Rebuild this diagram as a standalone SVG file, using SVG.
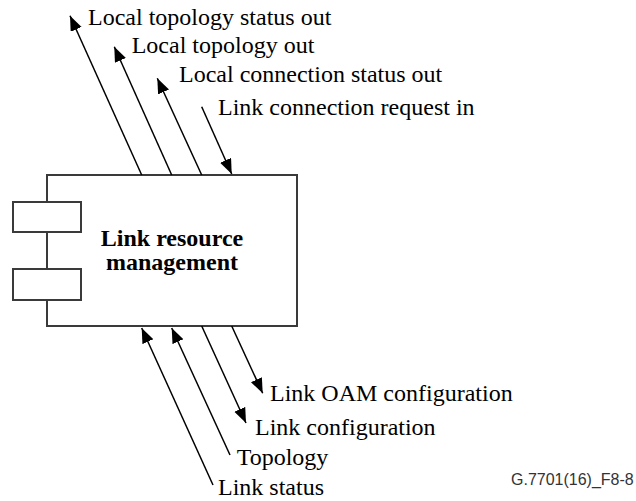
<svg xmlns="http://www.w3.org/2000/svg" width="636" height="501" viewBox="0 0 636 501">
  <style>
    .box { fill: #ffffff; stroke: #3a3a3a; stroke-width: 2; }
    .lbl { font-family: "Liberation Serif", "Times New Roman", serif; font-size: 24px; fill: #000000; }
    .title { font-family: "Liberation Serif", "Times New Roman", serif; font-size: 24px; font-weight: bold; fill: #000000; text-anchor: middle; }
    .ref { font-family: "Liberation Sans", Arial, sans-serif; font-size: 16px; fill: #333333; }
    .conn { stroke: #000000; stroke-width: 1.5; fill: none; marker-end: url(#arrow); }
  </style>
  <defs>
    <marker id="arrow" markerUnits="userSpaceOnUse" markerWidth="16" markerHeight="13" refX="15" refY="6" orient="auto">
      <path d="M0,0 L15,6 L0,12 z" fill="#000000"/>
    </marker>
  </defs>
  <rect width="636" height="501" fill="#ffffff"/>

  <g id="link-resource-management">
    <rect class="box" x="47" y="175" width="250" height="151"/>
    <rect class="box" x="13" y="202" width="68" height="30"/>
    <rect class="box" x="13" y="269" width="68" height="31"/>
    <text class="title" x="172" y="246">Link resource</text>
    <text class="title" x="172" y="270">management</text>
  </g>

  <g id="connectors">
    <line class="conn" x1="141.7" y1="175" x2="70" y2="15.7"/>
    <line class="conn" x1="171.7" y1="175" x2="114.3" y2="46.7"/>
    <line class="conn" x1="201.7" y1="175" x2="157.3" y2="78.3"/>
    <line class="conn" x1="201.7" y1="106.7" x2="231.7" y2="174"/>
    <line class="conn" x1="213" y1="485" x2="141.7" y2="328"/>
    <line class="conn" x1="230" y1="455" x2="171.7" y2="328"/>
    <line class="conn" x1="201.7" y1="326" x2="246" y2="423"/>
    <line class="conn" x1="231.7" y1="326" x2="262.7" y2="393.3"/>
  </g>

  <g id="labels">
    <text class="lbl" x="88" y="25">Local topology status out</text>
    <text class="lbl" x="131.7" y="53">Local topology out</text>
    <text class="lbl" x="179" y="82">Local connection status out</text>
    <text class="lbl" x="218" y="115">Link connection request in</text>
    <text class="lbl" x="270" y="401">Link OAM configuration</text>
    <text class="lbl" x="255" y="435">Link configuration</text>
    <text class="lbl" x="236.7" y="465">Topology</text>
    <text class="lbl" x="218" y="495">Link status</text>
    <text class="ref" x="511" y="485">G.7701(16)_F8-8</text>
  </g>
</svg>
